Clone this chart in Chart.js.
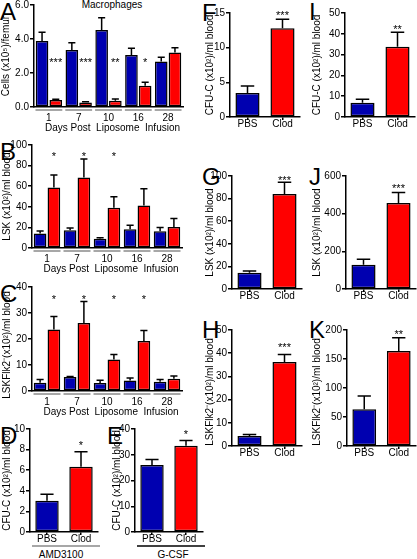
<!DOCTYPE html>
<html><head><meta charset="utf-8">
<script src="https://cdn.jsdelivr.net/npm/chart.js@4.4.1/dist/chart.umd.min.js"></script>
<style>
html,body{margin:0;padding:0;background:#fff;overflow:hidden;width:417px;height:559px;}
body{position:relative;font-family:"Liberation Sans",Arial,sans-serif;}
canvas{position:absolute;}
.lt{position:absolute;font-size:24px;line-height:24px;color:#000;}
.tx{position:absolute;font-size:10px;line-height:12px;color:#000;text-align:center;white-space:nowrap;}
</style></head><body>
<div class="lt" style="left:0;top:0">A</div>
<div class="lt" style="left:0;top:140px">B</div>
<div class="lt" style="left:0;top:282px">C</div>
<div class="lt" style="left:0;top:424px">D</div>
<div class="lt" style="left:107px;top:424px">E</div>
<div class="lt" style="left:202px;top:1px">F</div>
<div class="lt" style="left:202px;top:165px">G</div>
<div class="lt" style="left:202px;top:318px">H</div>
<div class="lt" style="left:309px;top:0">I</div>
<div class="lt" style="left:309px;top:165px">J</div>
<div class="lt" style="left:309px;top:318px">K</div>
<div class="tx" style="left:62px;top:-1px;width:100px">Macrophages</div>
<div class="tx" style="left:21px;top:549px;width:80px">AMD3100</div>
<div class="tx" style="left:133px;top:549px;width:80px">G-CSF</div>
<script>
// ---- data ----
const days = ['1','7','10','16','28'];
const groups = ['PBS','Clod'];

const macroPBS = [3.88,3.35,4.53,3.06,2.67];
const macroPBSErr = [0.51,0.43,0.72,0.39,0.25];
const macroClod = [0.41,0.27,0.37,1.25,3.2];
const macroClodErr = [0.05,0.04,0.1,0.2,0.29];
const macroStars = ['***','***','**','*',''];
const macroStarLevel = 2.76;

const lskPBS = [14,17.2,9.1,18.2,16.2];
const lskPBSErr = [2.6,2.3,0.9,3.8,3.6];
const lskClod = [58.8,68.5,39,41.2,20.5];
const lskClodErr = [12,17.9,10.7,16.3,8.1];
const lskStars = ['*','*','*','',''];
const lskStarLevel = 91;

const flkPBS = [3.2,5.4,3.1,4.0,3.6];
const flkPBSErr = [1.2,0.2,1.0,1.0,0.8];
const flkClod = [23.7,26.2,12.1,19.2,4.7];
const flkClodErr = [5,8.2,1.9,4.1,1.1];
const flkStars = ['*','*','*','*',''];
const flkStarLevel = 36.2;

const amdVals = [3.04,6.34], amdErr = [0.62,1.46], amdStars = ['','*'], amdStarLevel = 8.6;
const gcsfVals = [26,33.5], gcsfErr = [2.2,2.0], gcsfStars = ['','*'], gcsfStarLevel = 38.7;
const fVals = [3.46,12.8], fErr = [1.0,1.3], fStars = ['','***'], fStarLevel = 15.0;
const gVals = [14.4,84], gErr = [1.6,10.5], gStars = ['','***'], gStarLevel = 98;
const hVals = [4.3,36.2], hErr = [0.7,3.2], hStars = ['','***'], hStarLevel = 43.4;
const iVals = [6.9,33.8], iErr = [1.6,6.9], iStars = ['','**'], iStarLevel = 43.4;
const jVals = [129,456], jErr = [29,57], jStars = ['','***'], jStarLevel = 548;
const kVals = [63.5,164], kErr = [22.5,22.5], kStars = ['','**'], kStarLevel = 196;

const BLUE = '#0000b0', RED = '#ff0000';
const FONT = '"Liberation Sans", Arial, sans-serif';

function makePanel(o){
  const X = o.cx, Y = o.top - 10;
  const W = o.right + 4 - X, H = o.bottom + o.bottomH - Y;
  const c = document.createElement('canvas');
  c.width = W; c.height = H;
  c.style.left = X + 'px'; c.style.top = Y + 'px';
  c.style.width = W + 'px'; c.style.height = H + 'px';
  document.body.appendChild(c);

  const deco = {
    id: 'deco',
    afterDatasetsDraw(chart){
      const ctx = chart.ctx, ys = chart.scales.y, xs = chart.scales.x, ca = chart.chartArea;
      ctx.save();
      chart.data.datasets.forEach((ds, di) => {
        const meta = chart.getDatasetMeta(di);
        meta.data.forEach((el, i) => {
          const v = ds.data[i], e = ds.errors[i];
          const yt = ys.getPixelForValue(v + e);
          const cw = el.width * 0.28;
          ctx.strokeStyle = '#000'; ctx.lineWidth = 1.5;
          ctx.beginPath();
          ctx.moveTo(el.x, el.y); ctx.lineTo(el.x, yt);
          ctx.moveTo(el.x - cw, yt); ctx.lineTo(el.x + cw, yt);
          ctx.stroke();
        });
      });
      const sm = chart.getDatasetMeta(o.starDataset);
      ctx.fillStyle = '#000'; ctx.font = '11px ' + FONT;
      ctx.textAlign = 'center'; ctx.textBaseline = 'alphabetic';
      o.stars.forEach((s, i) => {
        if (!s) return;
        const el = sm.data[i];
        ctx.fillText(s, el.x, ys.getPixelForValue(o.starLevel) + 6);
      });
      ctx.save();
      ctx.translate(o.titleX - X, (ca.top + ca.bottom) / 2 + (o.titleDY || 0));
      ctx.rotate(-Math.PI / 2);
      ctx.font = '10px ' + FONT; ctx.textAlign = 'center'; ctx.textBaseline = 'middle';
      ctx.fillText(o.ytitle, 0, 0);
      ctx.restore();
      if (o.groupLines) {
        const n = o.labels.length, cwid = (ca.right - ca.left) / n;
        ctx.strokeStyle = '#8a8a8a'; ctx.lineWidth = 1.5;
        for (let i = 0; i < n; i++) {
          const xc = xs.getPixelForTick(i);
          ctx.beginPath();
          ctx.moveTo(xc - cwid * 0.45, ca.bottom + 3); ctx.lineTo(xc + cwid * 0.45, ca.bottom + 3);
          ctx.stroke();
        }
      }
      if (o.fullLine) {
        ctx.strokeStyle = o.fullLine; ctx.lineWidth = 1.5;
        ctx.beginPath();
        ctx.moveTo(ca.left + 2, ca.bottom + 14); ctx.lineTo(ca.right + 2, ca.bottom + 14);
        ctx.stroke();
      }
      if (o.xtitle) {
        ctx.font = '10px ' + FONT; ctx.textAlign = 'center'; ctx.textBaseline = 'middle';
        ctx.fillText(o.xtitle, (ca.left + ca.right) / 2 + 4, ca.bottom + 21);
      }
      ctx.restore();
    }
  };

  new Chart(c, {
    type: 'bar',
    data: { labels: o.labels, datasets: o.datasets },
    options: {
      responsive: false, animation: false, devicePixelRatio: 1,
      layout: { padding: { top: 10, right: 4, left: 0, bottom: 0 } },
      plugins: { legend: { display: false }, tooltip: { enabled: false }, title: { display: false } },
      scales: {
        x: {
          offset: true,
          border: { display: true, color: '#000', width: 1.5 },
          grid: o.groupLines
            ? { display: false, drawTicks: false, drawOnChartArea: false }
            : { display: true, drawOnChartArea: false, drawTicks: true, tickLength: 3, offset: false, color: '#000', lineWidth: 1.5 },
          ticks: { color: '#000', font: { size: 10, family: FONT, lineHeight: 1 }, padding: o.groupLines ? 6 : -1, autoSkip: false, maxRotation: 0 },
          afterFit: s => { s.height = o.bottomH; }
        },
        y: {
          min: 0, max: o.max,
          border: { display: true, color: '#000', width: 1.5 },
          grid: { display: true, drawOnChartArea: false, drawTicks: true, tickLength: 4, color: '#000', lineWidth: 1.5 },
          ticks: { stepSize: o.step, color: '#000', font: { size: 10, family: FONT, lineHeight: 1 }, padding: 1,
                   callback: v => o.fmt ? o.fmt(v) : String(v) },
          afterFit: s => { s.width = o.left - X; }
        }
      }
    },
    plugins: [deco]
  });
}

function grouped(pbs, pbsErr, clod, clodErr){
  const common = { borderColor: '#000', borderWidth: 1.5, borderSkipped: false, categoryPercentage: 0.92, barPercentage: 0.92 };
  return [
    Object.assign({ data: pbs, errors: pbsErr, backgroundColor: BLUE }, common),
    Object.assign({ data: clod, errors: clodErr, backgroundColor: RED }, common)
  ];
}
function pair(vals, errs){
  return [{ data: vals, errors: errs, backgroundColor: [BLUE, RED], borderColor: '#000', borderWidth: 1.5,
            borderSkipped: false, categoryPercentage: 0.8, barPercentage: 0.86 }];
}

const cfuT = 'CFU-C (x10\u00b2)/ml blood';
const lskT = 'LSK (x10\u00b2)/ml blood';
const flkT = 'LSKFlk2\u207b(x10\u00b2)/ml blood';

makePanel({ cx: 0, left: 34, right: 183, top: 5, bottom: 107, bottomH: 28, titleX: 6.5,
  labels: days, datasets: grouped(macroPBS, macroPBSErr, macroClod, macroClodErr),
  max: 6, step: 2, fmt: v => v.toFixed(1), ytitle: 'Cells (x10\u2075)/femur',
  stars: macroStars, starLevel: macroStarLevel, starDataset: 1, groupLines: true, xtitle: 'Days Post  Liposome  Infusion' });
makePanel({ cx: 0, left: 32, right: 182, top: 145, bottom: 248, bottomH: 27, titleX: 7,
  labels: days, datasets: grouped(lskPBS, lskPBSErr, lskClod, lskClodErr),
  max: 100, step: 20, ytitle: lskT,
  stars: lskStars, starLevel: lskStarLevel, starDataset: 1, groupLines: true, xtitle: 'Days Post  Liposome  Infusion' });
makePanel({ cx: 0, left: 32, right: 182, top: 287, bottom: 391, bottomH: 29, titleX: 7, titleDY: 6,
  labels: days, datasets: grouped(flkPBS, flkPBSErr, flkClod, flkClodErr),
  max: 40, step: 10, ytitle: flkT,
  stars: flkStars, starLevel: flkStarLevel, starDataset: 1, groupLines: true, xtitle: 'Days Post  Liposome  Infusion' });
makePanel({ cx: 0, left: 30, right: 98, top: 429, bottom: 532, bottomH: 27, titleX: 7,
  labels: groups, datasets: pair(amdVals, amdErr), max: 10, step: 2, ytitle: cfuT,
  stars: amdStars, starLevel: amdStarLevel, starDataset: 0, fullLine: '#8a8a8a' });
makePanel({ cx: 106, left: 135, right: 203, top: 429, bottom: 532, bottomH: 27, titleX: 117,
  labels: groups, datasets: pair(gcsfVals, gcsfErr), max: 40, step: 10, ytitle: cfuT,
  stars: gcsfStars, starLevel: gcsfStarLevel, starDataset: 0, fullLine: '#000' });
makePanel({ cx: 200, left: 230, right: 300, top: 13, bottom: 117, bottomH: 16, titleX: 210,
  labels: groups, datasets: pair(fVals, fErr), max: 15, step: 5, ytitle: cfuT,
  stars: fStars, starLevel: fStarLevel, starDataset: 0 });
makePanel({ cx: 200, left: 232, right: 302, top: 176, bottom: 289, bottomH: 16, titleX: 210,
  labels: groups, datasets: pair(gVals, gErr), max: 100, step: 20, ytitle: lskT,
  stars: gStars, starLevel: gStarLevel, starDataset: 0 });
makePanel({ cx: 200, left: 232, right: 302, top: 330, bottom: 446, bottomH: 16, titleX: 210, titleDY: 4,
  labels: groups, datasets: pair(hVals, hErr), max: 50, step: 10, ytitle: flkT,
  stars: hStars, starLevel: hStarLevel, starDataset: 0 });
makePanel({ cx: 306, left: 345, right: 415, top: 13, bottom: 117, bottomH: 16, titleX: 317,
  labels: groups, datasets: pair(iVals, iErr), max: 50, step: 10, ytitle: cfuT,
  stars: iStars, starLevel: iStarLevel, starDataset: 0 });
makePanel({ cx: 306, left: 346, right: 416, top: 176, bottom: 289, bottomH: 16, titleX: 317,
  labels: groups, datasets: pair(jVals, jErr), max: 600, step: 200, ytitle: lskT,
  stars: jStars, starLevel: jStarLevel, starDataset: 0 });
makePanel({ cx: 306, left: 347, right: 416, top: 330, bottom: 446, bottomH: 16, titleX: 317, titleDY: 4,
  labels: groups, datasets: pair(kVals, kErr), max: 200, step: 50, ytitle: flkT,
  stars: kStars, starLevel: kStarLevel, starDataset: 0 });
</script>
</body></html>
